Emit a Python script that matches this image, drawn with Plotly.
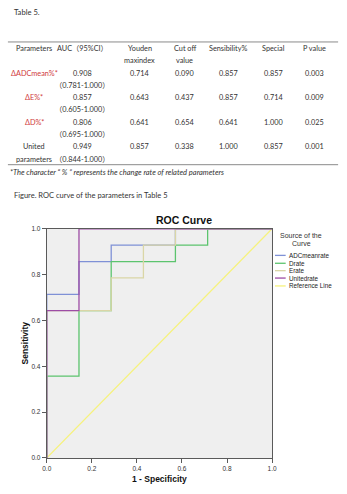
import plotly.graph_objects as go

W, H = 347, 494

# ---------------- data ----------------
table_header_1 = ["Parameters", "AUC（95%CI）", "Youden", "Cut off", "Sensibility%", "Special", "P value"]
table_header_2 = ["", "", "maxindex", "value", "", "", ""]
row_labels = ["ΔADCmean%*", "ΔE%*", "ΔD%*", "United"]
row_label_colors = ["#d0393b", "#d0393b", "#d0393b", "#333333"]
auc = ["0.908", "0.857", "0.806", "0.949"]
auc_ci = ["（0.781-1.000）", "（0.605-1.000）", "（0.695-1.000）", "（0.844-1.000）"]
youden = ["0.714", "0.643", "0.641", "0.857"]
cutoff = ["0.090", "0.437", "0.654", "0.338"]
sensibility = ["0.857", "0.857", "0.641", "1.000"]
special = ["0.857", "0.714", "1.000", "0.857"]
p_value = ["0.003", "0.009", "0.025", "0.001"]

series_names = ["ADCmeanrate", "Drate", "Erate", "Unitedrate"]
fpr_adc = [0.0, 0.0, 0.143, 0.286, 0.571, 1.0]
tpr_adc = [0.0, 0.714, 0.857, 0.929, 1.0, 1.0]
fpr_d = [0.0, 0.0, 0.143, 0.143, 0.286, 0.571, 0.714, 1.0]
tpr_d = [0.0, 0.357, 0.357, 0.643, 0.857, 0.929, 1.0, 1.0]
fpr_e = [0.0, 0.0, 0.286, 0.429, 0.571, 1.0]
tpr_e = [0.0, 0.643, 0.786, 0.929, 1.0, 1.0]
fpr_u = [0.0, 0.0, 0.143, 1.0]
tpr_u = [0.0, 0.643, 1.0, 1.0]
ref_x = [0.0, 1.0]
ref_y = [0.0, 1.0]
ticks = [0.0, 0.2, 0.4, 0.6, 0.8, 1.0]
tick_text = ["0.0", "0.2", "0.4", "0.6", "0.8", "1.0"]

colors = ["#7f91d6", "#5cc46e", "#dad6a6", "#9d4ca5"]
ref_color = "#f6f27c"

# ---------------- helpers ----------------
def px(x):
    return x / W

def py(y):
    return 1 - y / H

TXT = "Lato, 'Noto Sans CJK SC', sans-serif"
CH = "'Liberation Sans', Arial, sans-serif"

fig = go.Figure()

fig.add_trace(go.Scatter(x=ref_x, y=ref_y, mode="lines", line=dict(color=ref_color, width=1.2),
                         showlegend=False, hoverinfo="skip"))
for name, xs, ys, c in zip(series_names, [fpr_adc, fpr_d, fpr_e, fpr_u],
                           [tpr_adc, tpr_d, tpr_e, tpr_u], colors):
    fig.add_trace(go.Scatter(x=xs, y=ys, mode="lines", name=name, line=dict(color=c, width=1.3, shape="hv"),
                             showlegend=False))

x0p, x1p = 43, 275
y1p, y0p = 228, 460.5

fig.update_layout(
    width=W, height=H, autosize=False,
    margin=dict(l=0, r=0, t=0, b=0),
    paper_bgcolor="white", plot_bgcolor="#efefef",
    xaxis=dict(domain=[px(x0p), px(x1p)], range=[0, 1], tickvals=ticks, ticktext=tick_text,
               showgrid=False, zeroline=False, showline=True, linecolor="#5a5a5a", linewidth=1, mirror=True,
               ticks="outside", ticklen=4, tickcolor="#5a5a5a",
               tickfont=dict(family=CH, size=6.5, color="#333")),
    yaxis=dict(domain=[py(y0p), py(y1p)], range=[0, 1], tickvals=ticks, ticktext=tick_text,
               showgrid=False, zeroline=False, showline=True, linecolor="#5a5a5a", linewidth=1, mirror=True,
               ticks="outside", ticklen=4, tickcolor="#5a5a5a",
               tickfont=dict(family=CH, size=6.5, color="#333")),
)

ann = []

def T(x, y, text, size=7.3, color="#333333", anchor="center", family=TXT, **kw):
    ann.append(dict(x=px(x), y=py(y), xref="paper", yref="paper", text=text, showarrow=False,
                    xanchor=anchor, yanchor="middle", font=dict(family=family, size=size, color=color), **kw))

# table
T(7, 8, "Table 5.", size=7.6, anchor="left")
cols = [30, 80, 139, 185, 230, 276, 319]
for cx, h1, h2 in zip(cols, table_header_1, table_header_2):
    T(cx, 45, h1)
    if h2:
        T(cx, 57.5, h2)
row_y = [70, 95, 120, 145]
for i, ry in enumerate(row_y):
    T(cols[0], ry, row_labels[i], color=row_label_colors[i])
    T(cols[1], ry, auc[i])
    T(cols[1], ry + 12.5, auc_ci[i])
    T(cols[2], ry, youden[i])
    T(cols[3], ry, cutoff[i])
    T(cols[4], ry, sensibility[i])
    T(cols[5], ry, special[i])
    T(cols[6], ry, p_value[i])
T(cols[0], 157.5, "parameters")
T(3, 171, "<i>*The character “ % ” represents the change rate of related parameters</i>", size=7.5, anchor="left")
T(7, 194, "Figure. ROC curve of the parameters in Table 5", size=7.5, anchor="left")

shapes = []
for ly in [38.5, 163]:
    shapes.append(dict(type="line", xref="paper", yref="paper", x0=px(3), x1=px(343), y0=py(ly), y1=py(ly),
                       line=dict(color="#8a8a8a", width=1)))

# chart titles
T(184, 219, "<b>ROC Curve</b>", size=10.5, color="#111", family=CH)
T(159, 482, "<b>1 - Specificity</b>", size=8.5, color="#111", family=CH)
ann.append(dict(x=px(21), y=py(344), xref="paper", yref="paper", text="<b>Sensitivity</b>", showarrow=False,
                textangle=-90, xanchor="center", yanchor="middle", font=dict(family=CH, size=8.5, color="#111")))

# legend
T(305, 235, "Source of the", size=7, color="#333", family=CH)
T(305, 243, "Curve", size=7, color="#333", family=CH)
leg_names = series_names + ["Reference Line"]
leg_cols = colors + [ref_color]
leg_y = [255, 263, 270.5, 278, 286]
for nm, c, ly in zip(leg_names, leg_cols, leg_y):
    shapes.append(dict(type="line", xref="paper", yref="paper", x0=px(278), x1=px(289), y0=py(ly), y1=py(ly),
                       line=dict(color=c, width=1.3)))
    T(290, ly, nm, size=6.3, color="#222", anchor="left", family=CH)

fig.update_layout(annotations=ann, shapes=shapes)
fig.write_html("out.html", config={"displayModeBar": False},
               post_script="document.body.style.margin='0';")
